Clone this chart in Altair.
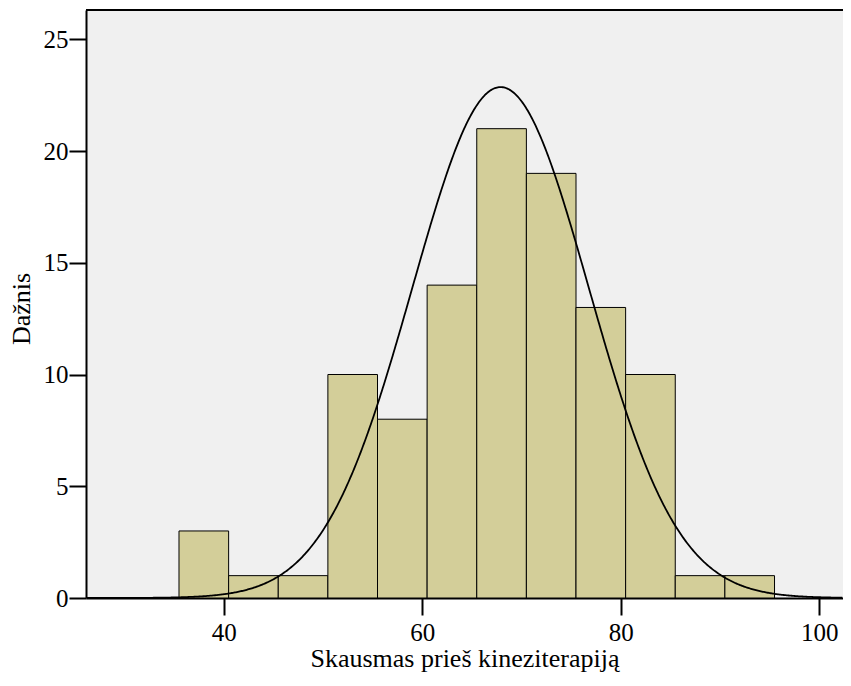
import altair as alt
import pandas as pd

# Histogram bins (lower edges), bin width and frequencies
bin_starts = [35.5, 40.5, 45.5, 50.5, 55.5, 60.5, 65.5, 70.5, 75.5, 80.5, 85.5, 90.5]
bin_width = 5
counts = [3, 1, 1, 10, 8, 14, 21, 19, 13, 10, 1, 1]

# Fitted normal curve parameters (SPSS-style overlay)
curve_mean = 67.9
curve_sd = 8.9
n_total = 102

x_ticks = [40, 60, 80, 100]
y_ticks = [0, 5, 10, 15, 20, 25]
x_title = "Skausmas prieš kineziterapiją"
y_title = "Dažnis"

X_DOMAIN = [26.13, 102.4]
Y_DOMAIN = [0, 26.31]

W, H = 757, 588

df = pd.DataFrame({
    "start": bin_starts,
    "end": [s + bin_width for s in bin_starts],
    "count": counts,
})

FONT = "Liberation Serif"

xscale = alt.Scale(domain=X_DOMAIN, nice=False, zero=False)
yscale = alt.Scale(domain=Y_DOMAIN, nice=False, zero=True)
xaxis = alt.Axis(values=x_ticks, title=x_title, labelPadding=5,
                 titleY=68, titleBaseline="alphabetic")
yaxis = alt.Axis(values=y_ticks, title=y_title, labelPadding=1,
                 titleX=-56.5, titleY=298.5, titleBaseline="alphabetic")

bars = alt.Chart(df).mark_rect(fill="#D3CE99", stroke="black", strokeWidth=1).encode(
    x=alt.X("start:Q", scale=xscale, axis=xaxis),
    x2="end:Q",
    y=alt.Y("count:Q", scale=yscale, axis=yaxis),
    y2=alt.datum(0),
)

peak = n_total * bin_width
curve = (
    alt.Chart(alt.sequence(X_DOMAIN[0], X_DOMAIN[1], 0.1, as_="xv"))
    .transform_calculate(
        yv=f"{peak}/({curve_sd}*sqrt(2*PI))*exp(-0.5*pow((datum.xv-{curve_mean})/{curve_sd},2))"
    )
    .mark_line(color="black", strokeWidth=1.8, clip=True)
    .encode(
        x=alt.X("xv:Q", scale=xscale, axis=xaxis),
        y=alt.Y("yv:Q", scale=yscale, axis=yaxis),
    )
)

top_line = alt.Chart(pd.DataFrame({"a": [0]})).mark_rule(color="black", strokeWidth=2).encode(
    x=alt.value(0), x2=alt.value(W), y=alt.value(0)
)

chart = (
    alt.layer(bars, curve, top_line)
    .properties(
        width=W,
        height=H,
        autosize=alt.AutoSizeParams(type="none"),
        padding={"left": 78, "top": 2, "right": 0, "bottom": 74},
        background="white",
    )
    .configure_view(fill="#F0F0F0", stroke=None)
    .configure_axis(
        labelFont=FONT,
        labelFontSize=25,
        labelColor="black",
        titleFont=FONT,
        titleFontSize=26,
        titleFontWeight="normal",
        titleColor="black",
        tickColor="black",
        tickSize=17,
        tickWidth=2,
        domainColor="black",
        domainWidth=2,
        grid=False,
    )
)

chart.save("out.html", embed_options={"renderer": "svg", "actions": False})
